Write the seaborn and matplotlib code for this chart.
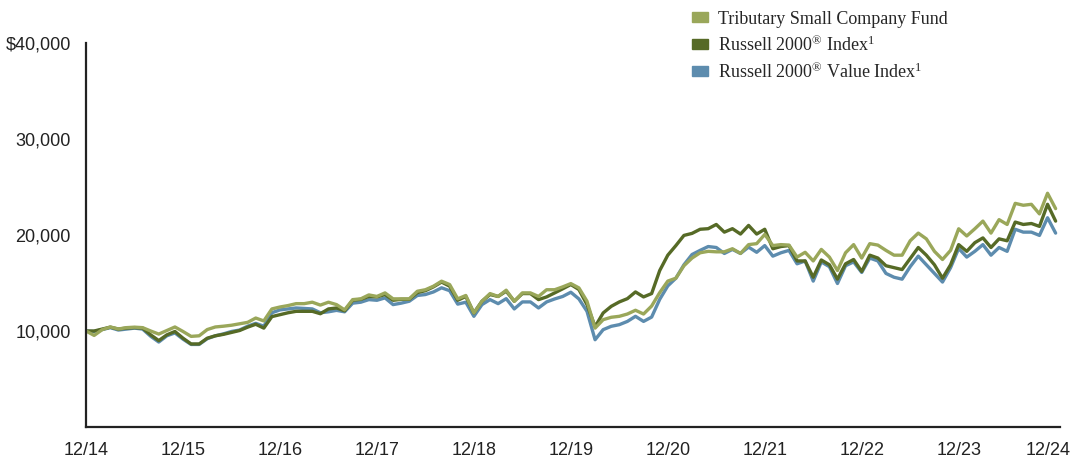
import numpy as np
import pandas as pd
import matplotlib
matplotlib.use('Agg')
import matplotlib.pyplot as plt
import matplotlib.transforms as mtrans
import seaborn as sns
from matplotlib.patches import Rectangle

# month-end values of a $10,000 investment, 12/14 .. 12/24
fund = [10000, 9540, 10140, 10420, 10210, 10350, 10400, 10350, 10000, 9680,
        10050, 10420, 9950, 9440, 9500, 10150, 10420, 10500, 10600, 10750,
        10900, 11350, 11050, 12300, 12500, 12650, 12850, 12850, 13000, 12700,
        13000, 12750, 12200, 13270, 13350, 13760, 13600, 13970, 13350, 13350,
        13350, 14140, 14300, 14670, 15190, 14840, 13350, 13700, 11880, 13100,
        13900, 13600, 14250, 13100, 13970, 13970, 13600, 14300, 14300, 14600,
        14940, 14490, 13100, 10300, 11180, 11430, 11530, 11770, 12160, 11770,
        12600, 14000, 15200, 15500, 16800, 17600, 18150, 18300, 18250, 18250,
        18570, 18080, 19000, 19100, 20060, 18900, 19000, 18950, 17700, 18200,
        17300, 18500, 17700, 16300, 18150, 19000, 17600, 19100, 18950, 18400,
        17900, 17900, 19400, 20200, 19600, 18300, 17450, 18400, 20650, 19900,
        20650, 21450, 20200, 21600, 21100, 23300, 23100, 23200, 22200, 24350,
        22750]

russell = [10000, 10000, 10200, 10400, 10200, 10300, 10350, 10300, 9600, 9000,
           9600, 9950, 9250, 8650, 8650, 9250, 9500, 9650, 9850, 10050,
           10400, 10700, 10300, 11500, 11700, 11900, 12050, 12050, 12050, 11800,
           12300, 12400, 12100, 13200, 13300, 13600, 13550, 13800, 13200, 13300,
           13300, 14000, 14200, 14600, 15100, 14670, 13200, 13600, 11880, 13100,
           13800, 13600, 14150, 13100, 13900, 13900, 13270, 13550, 13970, 14400,
           14840, 14320, 12750, 10450, 11880, 12570, 13030, 13370, 14070, 13550,
           13900, 16300, 17900, 18900, 19960, 20170, 20600, 20660, 21100, 20300,
           20660, 20100, 21000, 20100, 20600, 18570, 18800, 18900, 17300, 17300,
           15600, 17400, 16900, 15400, 17000, 17450, 16200, 17900, 17600, 16800,
           16600, 16400, 17550, 18700, 17900, 16900, 15500, 16900, 19000, 18300,
           19200, 19700, 18700, 19600, 19400, 21350, 21100, 21200, 20900, 23200,
           21450]

value = [10000, 9950, 10150, 10350, 10100, 10200, 10300, 10200, 9450, 8850,
         9500, 9800, 9150, 8600, 8600, 9200, 9500, 9700, 9950, 10100,
         10500, 10800, 10500, 11900, 12200, 12300, 12400, 12350, 12300, 11900,
         12000, 12150, 12000, 12900, 13000, 13270, 13200, 13450, 12750, 12900,
         13100, 13700, 13800, 14070, 14500, 14200, 12800, 13000, 11530, 12750,
         13270, 12850, 13370, 12300, 13030, 13030, 12400, 13030, 13340, 13600,
         14040, 13340, 12050, 9090, 10140, 10490, 10660, 11000, 11530, 11000,
         11450, 13300, 14700, 15500, 16900, 17970, 18400, 18800, 18700, 18080,
         18500, 18080, 18740, 18200, 18900, 17800, 18150, 18400, 17000, 17300,
         15200, 17200, 16700, 14950, 16800, 17200, 16100, 17600, 17300, 16000,
         15600, 15400, 16700, 17800, 16900, 16000, 15100, 16600, 18600, 17700,
         18300, 19000, 17900, 18700, 18300, 20600, 20300, 20300, 19960, 21800,
         20200]

names = ['Tributary Small Company Fund',
         r'Russell 2000$^{\circledR}$ Index$^{1}$',
         r'Russell 2000$^{\circledR}$ Value Index$^{1}$']
colors = ['#9aa75a', '#566a26', '#5d8cae']

x_ticks = [0, 12, 24, 36, 48, 60, 72, 84, 96, 108, 120]
x_labels = ['12/14', '12/15', '12/16', '12/17', '12/18', '12/19',
            '12/20', '12/21', '12/22', '12/23', '12/24']
y_ticks = [10000, 20000, 30000, 40000]
y_labels = ['10,000', '20,000', '30,000', '$40,000']

months = np.arange(len(fund))
df = pd.DataFrame({
    'month': np.concatenate([months] * 3),
    'value': fund + russell + value,
    'series': [names[0]] * len(fund) + [names[1]] * len(russell) + [names[2]] * len(value),
})

sns.set_style('white')
plt.rcParams['mathtext.fontset'] = 'custom'
plt.rcParams['mathtext.rm'] = 'Liberation Serif'
plt.rcParams['mathtext.it'] = 'Liberation Serif'

fig = plt.figure(figsize=(10.77, 4.62), dpi=100)
ax = fig.add_axes([0.0799, 0.0758, 0.904, 0.831])

# blue first, fund last so it sits on top
sns.lineplot(data=df, x='month', y='value', hue='series',
             hue_order=[names[2], names[1], names[0]],
             palette={names[0]: colors[0], names[1]: colors[1], names[2]: colors[2]},
             linewidth=2.4, legend=False, ax=ax)

tick_font = {'family': 'Liberation Sans', 'size': 13}
ax.set_xlim(0, 120.5)
ax.set_ylim(0, 40000)
ax.set_xlabel('')
ax.set_ylabel('')
ax.set_xticks(x_ticks)
ax.set_xticklabels(x_labels, fontdict=tick_font)
ax.set_yticks(y_ticks)
ax.set_yticklabels(y_labels, fontdict=tick_font)
ax.tick_params(axis='both', direction='in', length=8, width=1.6, color='#222222',
               labelcolor='#222222')
ax.tick_params(axis='y', pad=11)
ax.tick_params(axis='x', pad=11)

# last date label would run off the right edge; nudge it in a little
last = ax.get_xticklabels()[-1]
last.set_transform(last.get_transform() +
                   mtrans.ScaledTranslation(-7 / 100, 0, fig.dpi_scale_trans))

for side in ['top', 'right']:
    ax.spines[side].set_visible(False)
for side in ['left', 'bottom']:
    ax.spines[side].set_linewidth(1.6)
    ax.spines[side].set_color('#222222')

handles = [Rectangle((0, 0), 1, 1, color=c) for c in colors]
fig.legend(handles, names, loc='upper left', bbox_to_anchor=(0.627, 1.012),
           frameon=False, handlelength=0.9, handleheight=0.45, handletextpad=0.55,
           labelspacing=0.42, prop={'family': 'Liberation Serif', 'size': 13})

fig.savefig('out.png', dpi=100)
